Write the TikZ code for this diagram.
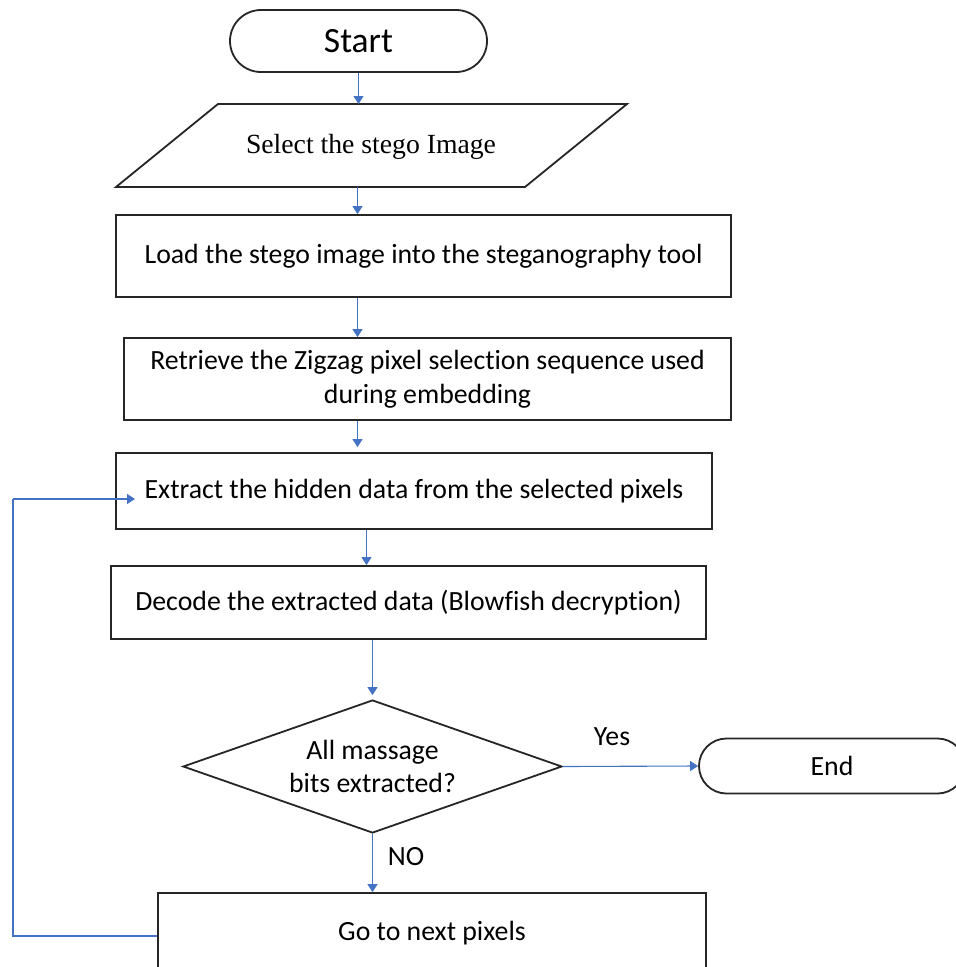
\documentclass[tikz,border=0pt]{standalone}
\usepackage{fontspec}
\setmainfont{Carlito}[Ligatures=CommonOff]
\newfontfamily\serifface{Liberation Serif}
\usetikzlibrary{shapes.geometric,arrows.meta,calc}
\definecolor{boxline}{HTML}{262626}
\definecolor{arrblue}{HTML}{4472C4}
\begin{document}
\begin{tikzpicture}[x=1pt,y=-1pt,
  box/.style={draw=boxline,line width=1.8pt,rectangle,inner sep=0pt,font=\fontsize{27.8}{34}\selectfont,align=center},
  lbl/.style={inner sep=0pt,font=\fontsize{27.8}{33}\selectfont,align=center},
  arr/.style={draw=arrblue,line width=1.1pt,-{Triangle[length=8pt,width=10pt]}},
  loopline/.style={draw=arrblue,line width=1.1pt}]
\useasboundingbox (0,0) rectangle (956,967);
\clip (0,0) rectangle (956,967);
\fill[white] (0,0) rectangle (956,967);
% nodes
\node[box,rounded corners=31pt,minimum width=257pt,minimum height=62pt,font=\fontsize{35.5}{40}\selectfont] (start) at (358.5,41) {Start};
\coordinate (p1) at (218,104);
\coordinate (p2) at (627,104);
\coordinate (p3) at (525,187);
\coordinate (p4) at (116,187);
\draw[boxline,line width=1.8pt,line join=miter] (p1) -- (p2) -- (p3) -- (p4) -- cycle;
\node[lbl,font=\serifface\fontsize{27.7}{32}\selectfont] (para) at (371,147) {Select the stego Image};
\node[box,minimum width=615pt,minimum height=82pt] (load) at (423.5,256) {Load the stego image into the steganography tool};
\node[box,minimum width=607pt,minimum height=82pt] (retr) at (427.5,379) {Retrieve the Zigzag pixel selection sequence used\\during embedding};
\node[box,minimum width=596pt,minimum height=76pt] (extr) at (414,491) {Extract the hidden data from the selected pixels};
\node[box,minimum width=595pt,minimum height=73pt] (deco) at (408.5,602.5) {Decode the extracted data (Blowfish decryption)};
\node[box,diamond,aspect=2.85,minimum width=379pt,minimum height=133pt,font=\fontsize{27.8}{33}\selectfont] (dia) at (372.5,766.5) {All massage\\bits extracted?};
\node[box,rounded corners=27.5pt,minimum width=266pt,minimum height=55pt] (endn) at (832,766) {End};
\node[box,minimum width=548pt,minimum height=80pt] (go) at (432,933) {Go to next pixels};
% labels
\node[lbl] (yes) at (612,737) {Yes};
\node[lbl] (no) at (406,857) {NO};
% connectors
\coordinate (c1) at (357.5,0);
\draw[arr] (start.south) -- (start.south |- p1);
\draw[arr] (c1 |- p4) -- (c1 |- load.north);
\draw[arr] (c1 |- load.south) -- (c1 |- retr.north);
\draw[arr] (c1 |- retr.south) -- ($(c1 |- extr.north)+(0,-5)$);
\coordinate (c2) at (366.5,0);
\draw[arr] (c2 |- extr.south) -- (c2 |- deco.north);
\draw[arr] (dia.north |- deco.south) -- ($(dia.north)+(0,-4)$);
\draw[arr] (dia.east) -- (endn.west);
\draw[arr] (dia.south) -- (dia.south |- go.north);
\coordinate (lx) at (13,936);
\coordinate (ltip) at (135,499);
\draw[loopline] (go.west |- lx) -- (lx) -- (lx |- ltip);
\draw[arr] (lx |- ltip) -- (ltip);
\end{tikzpicture}
\end{document}
